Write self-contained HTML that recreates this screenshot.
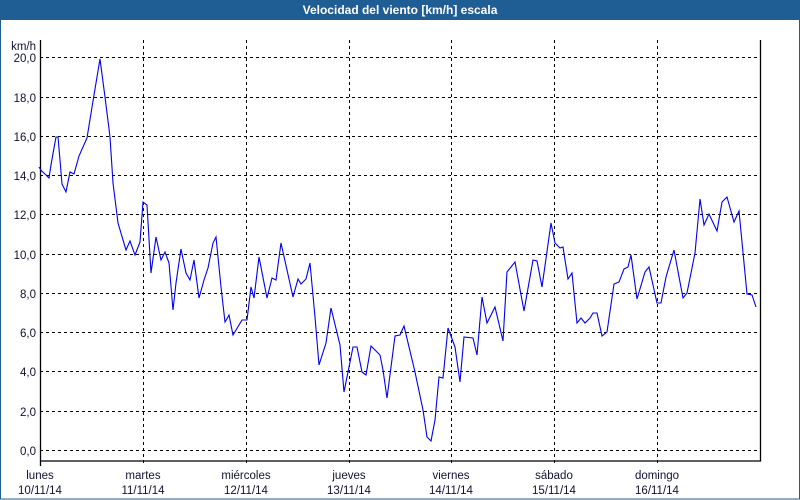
<!DOCTYPE html>
<html><head><meta charset="utf-8"><style>
body{margin:0;width:800px;height:500px;overflow:hidden;background:#fff;}
svg{display:block;font-family:"Liberation Sans",sans-serif;}
</style></head><body>
<svg width="800" height="500" viewBox="0 0 800 500">
<rect x="0" y="0" width="800" height="500" fill="#fff"/>
<rect x="0" y="0" width="800" height="20" fill="#1f5d95"/>
<rect x="0.5" y="0.5" width="799" height="498.5" fill="none" stroke="#1f5d95" stroke-width="1"/>
<text x="400" y="14" text-anchor="middle" font-size="12" font-weight="bold" fill="#fff">Velocidad del viento [km/h] escala</text>
<g stroke="#000" stroke-width="1" stroke-dasharray="3,3">
<line x1="40" x2="760" y1="57.5" y2="57.5"/>
<line x1="40" x2="760" y1="97.5" y2="97.5"/>
<line x1="40" x2="760" y1="136.5" y2="136.5"/>
<line x1="40" x2="760" y1="175.5" y2="175.5"/>
<line x1="40" x2="760" y1="214.5" y2="214.5"/>
<line x1="40" x2="760" y1="254.5" y2="254.5"/>
<line x1="40" x2="760" y1="293.5" y2="293.5"/>
<line x1="40" x2="760" y1="332.5" y2="332.5"/>
<line x1="40" x2="760" y1="371.5" y2="371.5"/>
<line x1="40" x2="760" y1="411.5" y2="411.5"/>
<line x1="40" x2="760" y1="450.5" y2="450.5"/>
<line x1="143.5" x2="143.5" y1="40" y2="466"/>
<line x1="246.5" x2="246.5" y1="40" y2="466"/>
<line x1="349.5" x2="349.5" y1="40" y2="466"/>
<line x1="451.5" x2="451.5" y1="40" y2="466"/>
<line x1="554.5" x2="554.5" y1="40" y2="466"/>
<line x1="657.5" x2="657.5" y1="40" y2="466"/>
</g>
<g stroke="#000" stroke-width="1.3" fill="none">
<polyline points="40.5,40 40.5,461 760.5,461 760.5,40"/>
<line x1="40.5" x2="40.5" y1="461" y2="466"/>
</g>
<polyline fill="none" stroke="#0000ee" stroke-width="1.1" points="39,167 41.3,170.7 46,175 49,178 51,165 54,148 56,137 58,137 60,160 62,184 66,192 70,172 74,174 79,156 87,138 94,95 100,59 105,97 110,137 113,183 118,223 126,250 130,241 135,255 140,242 143,202 147,205 151,273 156,237 161,260 165,252 169,263 173,310 176,283 181,249 186,273 190,280 194,260 199,298 204,280 208,268 213,243 216,237 221,287 225,322 228,317 229,315 233,335 242,320 247,320 251,287 254,298 259,257 267,298 272,278 276,280 281,243 293,297 298,279 301,284 306,279 310,263 315,317 319,365 326,343 331,308 340,345 344,392 353,347 357,347 362,372 366,375 371,346 380,355 383,370 387,398 395,336 400,335 404,326 415,372 423,410 427,437 431,441 435,420 439,377 443,378 448,328 455,347 460,382 464,337 473,338 477,355 482,297 487,323 495,307 503,341 507,272 515,262 524,311 533,260 537,261 542,287 551,223 555,243 560,248 563,247 568,279 572,273 577,323 581,318 585,323 590,318 593,313 597,313 602,336 607,332 614,284 619,282 624,269 628,267 631,255 637,299 645,272 649,267 657,303 661,303 666,277 674,250 683,298 687,293 695,253 700,199 704,225 709,214 717,231 722,202 727,197 734,222 739,211 747,294 752,295 756,307"/>
<g font-size="11.5" fill="#111133" text-anchor="end">
<text x="36" y="50">km/h</text>
<text x="36" y="62">20,0</text>
<text x="36" y="102">18,0</text>
<text x="36" y="141">16,0</text>
<text x="36" y="180">14,0</text>
<text x="36" y="219">12,0</text>
<text x="36" y="259">10,0</text>
<text x="36" y="298">8,0</text>
<text x="36" y="337">6,0</text>
<text x="36" y="376">4,0</text>
<text x="36" y="416">2,0</text>
<text x="36" y="455">0,0</text>
</g>
<g font-size="11.5" fill="#111133" text-anchor="middle">
<text x="40" y="479">lunes</text><text x="40" y="494">10/11/14</text>
<text x="143" y="479">martes</text><text x="143" y="494">11/11/14</text>
<text x="246" y="479">miércoles</text><text x="246" y="494">12/11/14</text>
<text x="349" y="479">jueves</text><text x="349" y="494">13/11/14</text>
<text x="451" y="479">viernes</text><text x="451" y="494">14/11/14</text>
<text x="554" y="479">sábado</text><text x="554" y="494">15/11/14</text>
<text x="657" y="479">domingo</text><text x="657" y="494">16/11/14</text>
</g>
</svg>
</body></html>
